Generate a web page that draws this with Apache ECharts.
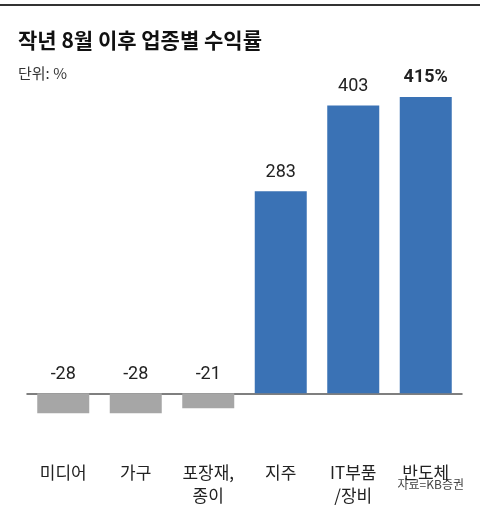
<!DOCTYPE html><html><head><meta charset="utf-8"><script src="https://cdn.jsdelivr.net/npm/echarts@6/dist/echarts.min.js"></script>
<style>body{margin:0}#c{width:480px;height:512px}</style></head><body><div id="c"></div><script>
const categories=['미디어','가구','포장재,\n종이','지주','IT부품\n/장비','반도체'];
const values=[-28,-28,-21,283,403,415];
const labels=['-28','-28','-21','283','403','415%'];
const ch=echarts.init(document.getElementById('c'));
ch.setOption({animation:false,
graphic:[{type:'rect',left:0,top:4,shape:{width:480,height:2},style:{fill:'#333'}},
{type:'text',left:18,top:30,style:{text:'작년 8월 이후 업종별 수익률',font:'bold 21px "Noto Sans CJK KR"',fill:'#111'}},
{type:'text',left:18,top:66,style:{text:'단위: %',font:'15px "Noto Sans CJK KR"',fill:'#333'}},
{type:'text',right:16,top:478,style:{text:'자료=KB증권',font:'12px "Noto Sans CJK KR"',fill:'#444'}}],
grid:{left:27,right:18,top:72,bottom:83},
xAxis:{type:'category',data:categories,axisTick:{show:false},axisLine:{onZero:true,lineStyle:{color:'#555',width:1.5}},
axisLabel:{margin:32,fontSize:17,color:'#222',lineHeight:23,fontFamily:'Noto Sans CJK KR'}},
yAxis:{type:'value',min:-50,max:450,show:false,splitLine:{show:false}},
series:[{type:'bar',barWidth:52,data:values.map((v,i)=>({value:v,itemStyle:{color:v<0?'#a6a6a6':'#3a72b5'},
label:{show:true,position:'top',distance:10,formatter:labels[i],fontSize:18,color:'#222',fontWeight:i==5?'bold':'normal',fontFamily:'Roboto'}}))}]
});
</script></body></html>
